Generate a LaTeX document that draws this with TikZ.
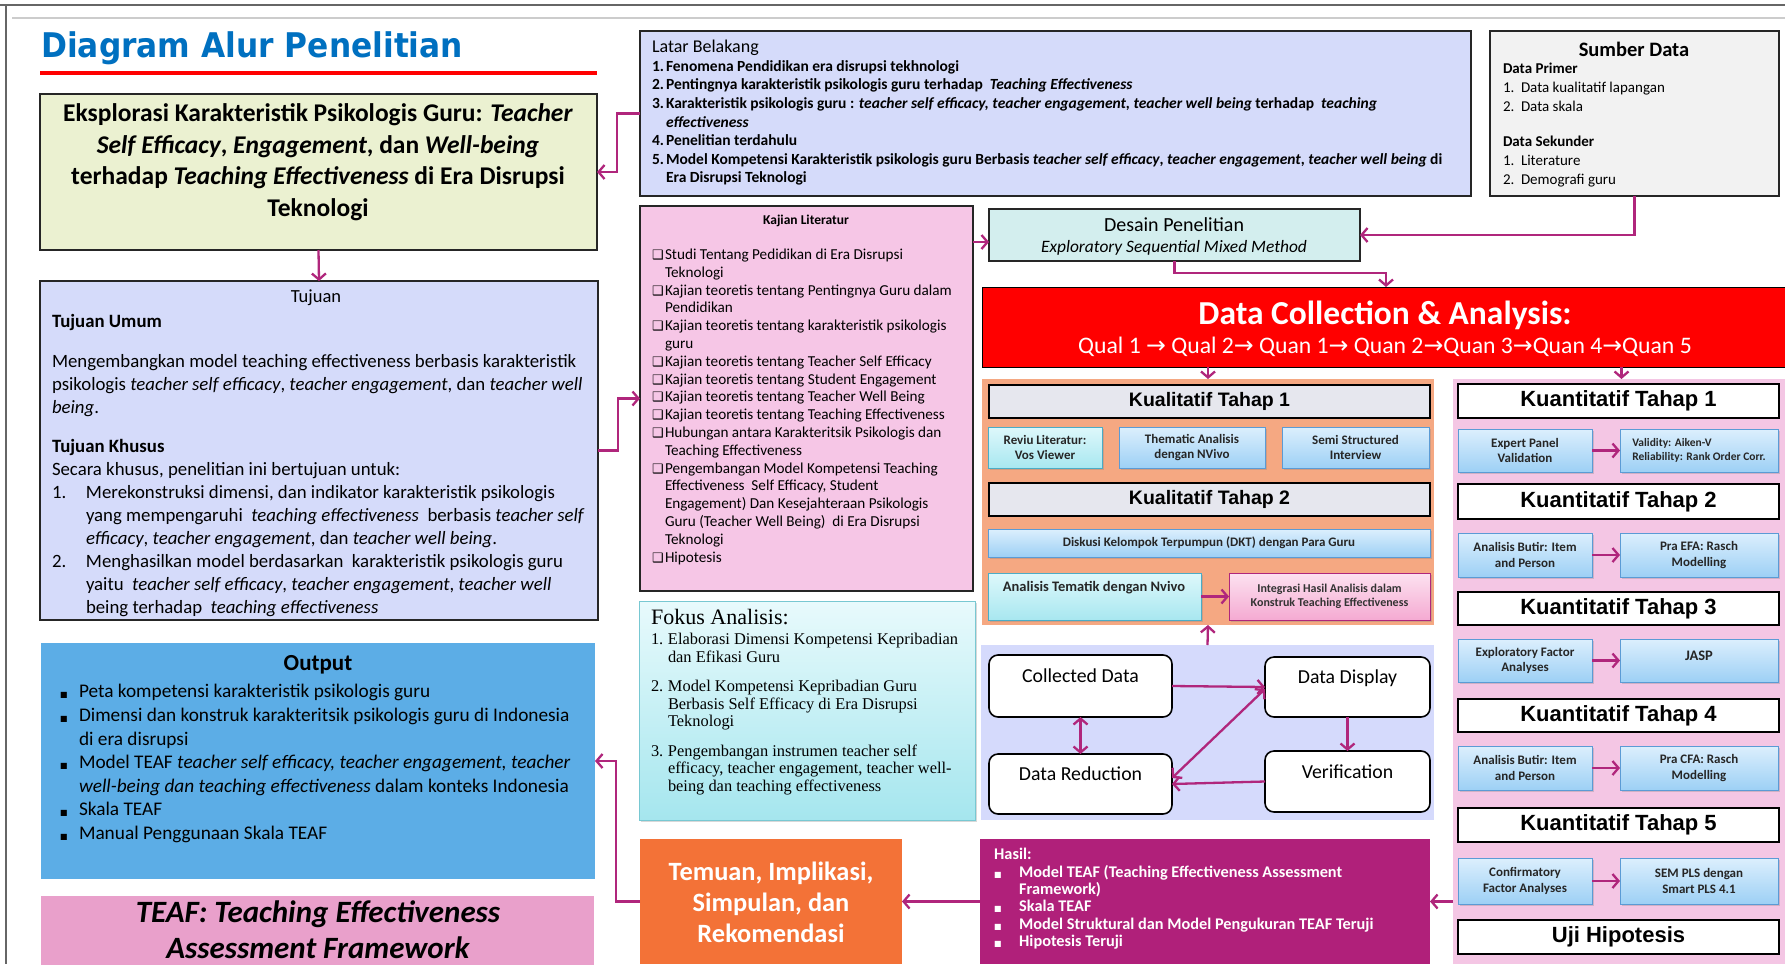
\documentclass[tikz,border=0pt]{standalone}
\usepackage{graphicx}
\usepackage{fontspec}
\setmainfont{Carlito}
\newfontfamily\titlef{DejaVu Sans}
\newfontfamily\arialf{Liberation Sans}
\newfontfamily\serf{Liberation Serif}
\newfontfamily\djv{DejaVu Sans}
\usetikzlibrary{arrows.meta,shadows,shadings,calc}

\definecolor{mag}{RGB}{176,38,124}
\definecolor{titleblue}{RGB}{0,112,192}
\definecolor{greenbox}{RGB}{235,241,209}
\definecolor{lav}{RGB}{213,219,250}
\definecolor{sumbg}{RGB}{242,242,242}
\definecolor{kajbg}{RGB}{246,198,230}
\definecolor{desbg}{RGB}{211,238,238}
\definecolor{kualbg}{RGB}{245,168,130}
\definecolor{kuanbg}{RGB}{244,198,228}
\definecolor{panelbg}{RGB}{213,218,252}
\definecolor{outbg}{RGB}{92,173,230}
\definecolor{teafbg}{RGB}{233,160,203}
\definecolor{temuanbg}{RGB}{243,114,55}
\definecolor{hasilbg}{RGB}{176,32,122}
\definecolor{hdrgray}{RGB}{230,231,238}
\definecolor{cyanT}{RGB}{222,248,251}
\definecolor{cyanB}{RGB}{168,231,240}
\definecolor{cyanD}{RGB}{75,172,198}
\definecolor{blueT}{RGB}{220,239,253}
\definecolor{blueB}{RGB}{157,208,245}
\definecolor{blueD}{RGB}{91,155,213}
\definecolor{pinkT}{RGB}{252,226,240}
\definecolor{pinkB}{RGB}{245,170,210}
\definecolor{fokT}{RGB}{232,250,252}
\definecolor{fokB}{RGB}{165,230,238}
\definecolor{fokD}{RGB}{120,200,210}

\newcommand\rbx[7]{\node[#1,anchor=north west,inner sep=0pt,outer sep=0pt,minimum width={(#5)-(#3)},minimum height={(#6)-(#4)}] (#2) at (#3,#4) {#7};}
\newcommand\blk[7]{\node[anchor=north west,inner sep=0pt,outer sep=0pt,align=left,font={#6\fontsize{#4}{#5}\selectfont}] (#1) at ({#2},{#3+0.3*#4-0.7*#5}) {\strut#7};}
\newcommand\nbx[2]{\makebox[#1][l]{#2}}
\newcommand\chk{\makebox[13pt][l]{\djv\fontsize{13}{13}\selectfont ❑}}
\newcommand\bul{{\djv\fontsize{8}{8}\selectfont ■}}
\newcommand\arr{{\djv →}}

\tikzset{
  frm/.style={draw=black!85, line width=1.2pt},
  hdr/.style={draw=black, line width=1.4pt, fill=hdrgray, font=\arialf\bfseries\fontsize{19.5}{22}\selectfont},
  hdrk/.style={draw=black, line width=1.4pt, fill=white, font=\arialf\bfseries\fontsize{22}{24}\selectfont},
  shd/.style={drop shadow={shadow xshift=2pt,shadow yshift=-2pt,opacity=0.3}},
  cbx/.style={shd, top color=cyanT, bottom color=cyanB, draw=cyanD, line width=1pt, align=center, text=black!85, font=\bfseries\fontsize{13}{15.5}\selectfont},
  bbx/.style={shd, top color=blueT, bottom color=blueB, draw=blueD, line width=1pt, align=center, text=black!85, font=\bfseries\fontsize{13}{15.5}\selectfont},
  pbx/.style={shd, top color=pinkT, bottom color=pinkB, draw=mag, line width=1pt, align=center, text=black!80, font=\bfseries\fontsize{12}{14.5}\selectfont},
  rnd/.style={draw=black, line width=1.6pt, rounded corners=9pt, fill=white},
  lbl/.style={font=\fontsize{19.8}{22}\selectfont},
  conn/.style={draw=mag, line width=2.3pt, -{Straight Barb[length=6pt,width=14pt]}},
  conn2/.style={draw=mag, line width=2.3pt, {Straight Barb[length=6pt,width=14pt]}-{Straight Barb[length=6pt,width=14pt]}},
}

\begin{document}
\begin{tikzpicture}[x=1pt,y=-1pt]
\useasboundingbox (0,0) rectangle (1785,964);
\begin{scope}
\clip (0,0) rectangle (1785,964);
\fill[white] (0,0) rectangle (1785,964);
% frame lines
\draw[black!60, line width=2.5pt] (0,5) -- (1785,5);
\draw[black!60, line width=2pt] (6,5) -- (6,964);
\draw[black!20, line width=1.5pt] (12,18) -- (1785,18);

% title
\node[anchor=base west, inner sep=0pt, text=titleblue] (title) at (41,57) {\scalebox{0.92}[1]{\titlef\bfseries\fontsize{34}{40}\selectfont Diagram Alur Penelitian}};
\draw[red, line width=4pt] (40,73) -- (597,73);

% boxes
\rbx{frm, fill=greenbox}{box1}{40}{94}{597}{250}{}
\rbx{frm, fill=lav}{tujuan}{40}{281}{598}{620}{}
\rbx{fill=outbg}{output}{41}{643}{595}{879}{}
\rbx{fill=teafbg}{teaf}{41}{896}{594}{990}{}
\rbx{frm, fill=lav}{latar}{640}{31}{1471}{196}{}
\rbx{frm, fill=sumbg}{sumber}{1490}{31}{1779}{196}{}
\rbx{frm, fill=kajbg}{kajian}{640}{206}{973}{591}{}
\rbx{frm, fill=desbg}{desain}{989}{209}{1360}{261}{}
\rbx{draw=black, line width=1pt, fill=red}{dca}{982}{287}{1790}{367}{}
\rbx{fill=kualbg}{kual}{982}{379}{1434}{625}{}
\rbx{fill=kuanbg}{kuan}{1453}{379}{1790}{964}{}
\rbx{fill=panelbg}{panel}{981}{645}{1434}{820}{}
\rbx{shd, top color=fokT, bottom color=fokB, draw=fokD, line width=1pt}{fokus}{639}{601}{975}{820}{}
\rbx{fill=temuanbg}{temuan}{640}{839}{902}{964}{}
\rbx{fill=hasilbg}{hasil}{980}{839}{1430}{964}{}

% box1 text
\node[align=center, font=\bfseries\fontsize{25.5}{31.5}\selectfont] (box1txt) at (318,162) {Eksplorasi Karakteristik Psikologis Guru: \textit{Teacher}\\ \textit{Self Efficacy}, \textit{Engagement}, dan \textit{Well-being}\\ terhadap \textit{Teaching Effectiveness} di Era Disrupsi\\ Teknologi};

% tujuan
\node[font=\fontsize{18.5}{21}\selectfont] (tujhd) at (316,298) {Tujuan};
\blk{tujtxt}{52}{322}{18.8}{23}{}{\textbf{Tujuan Umum}\\[17pt]
Mengembangkan model teaching effectiveness berbasis karakteristik\\
psikologis \textit{teacher self efficacy}, \textit{teacher engagement}, dan \textit{teacher well}\\
\textit{being}.\\[16pt]
\textbf{Tujuan Khusus}\\
Secara khusus, penelitian ini bertujuan untuk:\\
\nbx{34pt}{1.}Merekonstruksi dimensi, dan indikator karakteristik psikologis\\
\hspace*{34pt}yang mempengaruhi \ \textit{teaching effectiveness} \ berbasis \textit{teacher self}\\
\hspace*{34pt}\textit{efficacy}, \textit{teacher engagement}, dan \textit{teacher well being}.\\
\nbx{34pt}{2.}Menghasilkan model berdasarkan \ karakteristik psikologis guru\\
\hspace*{34pt}yaitu \ \textit{teacher self efficacy}, \textit{teacher engagement}, \textit{teacher well}\\
\hspace*{34pt}being terhadap \ \textit{teaching effectiveness}}

% output
\node[font=\bfseries\fontsize{23}{26}\selectfont] (outhd) at (318,665) {Output};
\blk{outtxt}{60}{692}{19.3}{23.6}{}{\nbx{19pt}{\bul}Peta kompetensi karakteristik psikologis guru\\
\nbx{19pt}{\bul}Dimensi dan konstruk karakteritsik psikologis guru di Indonesia\\
\hspace*{19pt}di era disrupsi\\
\nbx{19pt}{\bul}Model TEAF \textit{teacher self efficacy, teacher engagement, teacher}\\
\hspace*{19pt}\textit{well-being dan teaching effectiveness} dalam konteks Indonesia\\
\nbx{19pt}{\bul}Skala TEAF\\
\nbx{19pt}{\bul}Manual Penggunaan Skala TEAF}

% teaf
\node[align=center, font=\bfseries\itshape\fontsize{31}{36}\selectfont] (teaftxt) at (318,930) {TEAF: Teaching Effectiveness\\Assessment Framework};

% latar
\blk{lattxt}{652}{48}{15.5}{18.6}{\bfseries}{{\mdseries\fontsize{18}{18.6}\selectfont Latar Belakang}\\
\nbx{14pt}{1.}Fenomena Pendidikan era disrupsi tekhnologi\\
\nbx{14pt}{2.}Pentingnya karakteristik psikologis guru terhadap \ \textit{Teaching Effectiveness}\\
\nbx{14pt}{3.}Karakteristik psikologis guru : \textit{teacher self efficacy, teacher engagement, teacher well being} terhadap \ \textit{teaching}\\
\hspace*{14pt}\textit{effectiveness}\\
\nbx{14pt}{4.}Penelitian terdahulu\\
\nbx{14pt}{5.}Model Kompetensi Karakteristik psikologis guru Berbasis \textit{teacher self efficacy}, \textit{teacher engagement}, \textit{teacher well being} di\\
\hspace*{14pt}Era Disrupsi Teknologi}

% sumber
\node[font=\bfseries\fontsize{20.5}{23}\selectfont] (sumhd) at (1634,49) {Sumber Data};
\blk{sumtxt}{1503}{69}{15}{19}{}{\textbf{Data Primer}\\
\nbx{18pt}{1.}Data kualitatif lapangan\\
\nbx{18pt}{2.}Data skala\\[16pt]
\textbf{Data Sekunder}\\
\nbx{18pt}{1.}Literature\\
\nbx{18pt}{2.}Demografi guru}

% kajian
\node[font=\bfseries\fontsize{13.5}{15}\selectfont] (kajhd) at (806,221) {Kajian Literatur};
\blk{kajtxt}{652}{255}{15.2}{17.8}{}{\chk Studi Tentang Pedidikan di Era Disrupsi\\
\hspace*{13pt}Teknologi\\
\chk Kajian teoretis tentang Pentingnya Guru dalam\\
\hspace*{13pt}Pendidikan\\
\chk Kajian teoretis tentang karakteristik psikologis\\
\hspace*{13pt}guru\\
\chk Kajian teoretis tentang Teacher Self Efficacy\\
\chk Kajian teoretis tentang Student Engagement\\
\chk Kajian teoretis tentang Teacher Well Being\\
\chk Kajian teoretis tentang Teaching Effectiveness\\
\chk Hubungan antara Karakteritsik Psikologis dan\\
\hspace*{13pt}Teaching Effectiveness\\
\chk Pengembangan Model Kompetensi Teaching\\
\hspace*{13pt}Effectiveness \ Self Efficacy, Student\\
\hspace*{13pt}Engagement) Dan Kesejahteraan Psikologis\\
\hspace*{13pt}Guru (Teacher Well Being) \ di Era Disrupsi\\
\hspace*{13pt}Teknologi\\
\chk Hipotesis}

% desain
\node[font=\fontsize{20}{22}\selectfont] (destt) at (1174,225) {Desain Penelitian};
\node[font=\itshape\fontsize{17.4}{19}\selectfont] (dessub) at (1174,248) {Exploratory Sequential Mixed Method};

% data collection
\node[text=white, font=\bfseries\fontsize{33.5}{36}\selectfont] (dcat) at (1385,315) {Data Collection \& Analysis:};
\node[text=white, font=\fontsize{23.7}{26}\selectfont] (dcaq) at (1385,347) {Qual 1 \arr{} Qual 2\arr{} Quan 1\arr{} Quan 2\arr{}Quan 3\arr{}Quan 4\arr{}Quan 5};

% kualitatif
\rbx{hdr}{kt1}{989}{385}{1430}{418}{Kualitatif Tahap 1}
\rbx{cbx}{q1a}{988}{427}{1102}{468}{Reviu Literatur:\\Vos Viewer}
\rbx{bbx}{q1b}{1119}{427}{1265}{468}{Thematic Analisis\\dengan NVivo}
\rbx{bbx}{q1c}{1282}{427}{1429}{468}{Semi Structured\\Interview}
\rbx{hdr}{kt2}{989}{483}{1430}{516}{Kualitatif Tahap 2}
\rbx{bbx}{dkt}{988}{529}{1430}{557}{Diskusi Kelompok Terpumpun (DKT) dengan Para Guru}
\rbx{cbx}{anal}{988}{573}{1201}{620}{}
\node[font=\bfseries\fontsize{14.5}{16}\selectfont, text=black!85] (analtxt) at (1094,588) {Analisis Tematik dengan Nvivo};
\rbx{pbx}{integ}{1229}{573}{1430}{620}{Integrasi Hasil Analisis dalam\\Konstruk Teaching Effectiveness}

% kuantitatif
\rbx{hdrk}{kh1}{1458}{384}{1779}{418}{Kuantitatif Tahap 1}
\rbx{bbx}{k1a}{1458}{429}{1592}{472}{Expert Panel\\Validation}
\rbx{bbx, align=left, font=\bfseries\fontsize{11.5}{13.5}\selectfont}{k1b}{1620}{429}{1778}{472}{Validity: Aiken-V\\Reliability: Rank Order Corr.}
\rbx{hdrk}{kh2}{1458}{484}{1779}{519}{Kuantitatif Tahap 2}
\rbx{bbx}{k2a}{1458}{533}{1592}{577}{Analisis Butir: Item\\and Person}
\rbx{bbx}{k2b}{1620}{533}{1778}{577}{Pra EFA: Rasch\\Modelling}
\rbx{hdrk}{kh3}{1458}{592}{1779}{625}{Kuantitatif Tahap 3}
\rbx{bbx}{k3a}{1458}{639}{1592}{682}{Exploratory Factor\\Analyses}
\rbx{bbx}{k3b}{1620}{639}{1778}{682}{}
\node[font=\bfseries\fontsize{14.5}{16}\selectfont, text=black!85] (jasp) at (1699,656) {JASP};
\rbx{hdrk}{kh4}{1458}{699}{1779}{732}{Kuantitatif Tahap 4}
\rbx{bbx}{k4a}{1458}{746}{1592}{790}{Analisis Butir: Item\\and Person}
\rbx{bbx}{k4b}{1620}{746}{1778}{790}{Pra CFA: Rasch\\Modelling}
\rbx{hdrk}{kh5}{1458}{808}{1779}{842}{Kuantitatif Tahap 5}
\rbx{bbx}{k5a}{1458}{858}{1592}{904}{Confirmatory\\Factor Analyses}
\rbx{bbx}{k5b}{1620}{858}{1778}{904}{SEM PLS dengan\\Smart PLS 4.1}
\rbx{hdrk}{uji}{1458}{920}{1779}{954}{Uji Hipotesis}

% panel
\rbx{rnd}{coll}{989}{655}{1172}{717}{}
\rbx{rnd}{disp}{1265}{657}{1430}{717}{}
\rbx{rnd}{redu}{989}{754}{1172}{814}{}
\rbx{rnd}{verif}{1265}{751}{1430}{812}{}
\node[lbl] (colltxt) at ([yshift=10pt]coll.center) {Collected Data};
\node[lbl] (disptxt) at ([yshift=9pt]disp.center) {Data Display};
\node[lbl] (redutxt) at ([yshift=10pt]redu.center) {Data Reduction};
\node[lbl] (veriftxt) at ([yshift=10pt]verif.center) {Verification};

% fokus
\node[anchor=west, inner sep=0pt, font=\serf\fontsize{22}{24}\selectfont] (fokhd) at (651,617) {Fokus Analisis:};
\blk{foktxt}{651}{640}{16.4}{17.5}{\serf}{\nbx{17pt}{1.}Elaborasi Dimensi Kompetensi Kepribadian\\
\hspace*{17pt}dan Efikasi Guru\\[12pt]
\nbx{17pt}{2.}Model Kompetensi Kepribadian Guru\\
\hspace*{17pt}Berbasis Self Efficacy di Era Disrupsi\\
\hspace*{17pt}Teknologi\\[12pt]
\nbx{17pt}{3.}Pengembangan instrumen teacher self\\
\hspace*{17pt}efficacy, teacher engagement, teacher well-\\
\hspace*{17pt}being dan teaching effectiveness}

% temuan
\node[align=center, text=white, font=\bfseries\fontsize{26.4}{31}\selectfont] (temtxt) at (771,902) {Temuan, Implikasi,\\Simpulan, dan\\Rekomendasi};

% hasil
\node[anchor=north west, inner sep=0pt, align=left, text=white, font=\bfseries\fontsize{16.3}{17.2}\selectfont] (hastxt) at (994,{854+4.9-12}) {\strut Hasil:\\
\nbx{25pt}{\bul}Model TEAF (Teaching Effectiveness Assessment\\
\hspace*{25pt}Framework)\\
\nbx{25pt}{\bul}Skala TEAF\\
\nbx{25pt}{\bul}Model Struktural dan Model Pengukuran TEAF Teruji\\
\nbx{25pt}{\bul}Hipotesis Teruji};

% connectors
\draw[conn] (latar.west) -- ++(-23,0) |- (box1.east);
\draw[conn] (box1.south) -- (tujuan.north);
\draw[conn] (tujuan.east) -- ++(20,0) |- (kajian.west);
\coordinate (kd) at (973,242);
\draw[conn] (kd) -- (desain.west |- kd);
\draw[conn] (sumber.south) |- (desain.east);
\draw[conn] (desain.south) -- ++(0,12) -| (dca.north);
\draw[conn] (kual.north |- dca.south) -- (kual.north);
\draw[conn] (kuan.north |- dca.south) -- (kuan.north);
\draw[conn] (panel.north) -- (kual.south);
\draw[conn] (anal.east) -- (integ.west);
\draw[conn] (k1a.east) -- (k1b.west);
\draw[conn] (k2a.east) -- (k2b.west);
\draw[conn] (k3a.east) -- (k3b.west);
\draw[conn] (k4a.east) -- (k4b.west);
\draw[conn] (k5a.east) -- (k5b.west);
\draw[conn] (kuan.west |- hasil.east) -- (hasil.east);
\draw[conn] (hasil.west) -- (temuan.east);
\draw[conn] (temuan.west) -- ++(-24,0) |- (output.east);
\draw[conn] (coll.east) -- (disp.west);
\draw[conn2] (coll.south) -- (redu.north);
\draw[conn] (disp.south) -- (verif.north);
\draw[conn] (verif.west) -- (redu.east);
\draw[conn2] ([yshift=6pt]redu.east) -- ([yshift=-2pt]disp.west);
\end{scope}
\end{tikzpicture}
\end{document}
